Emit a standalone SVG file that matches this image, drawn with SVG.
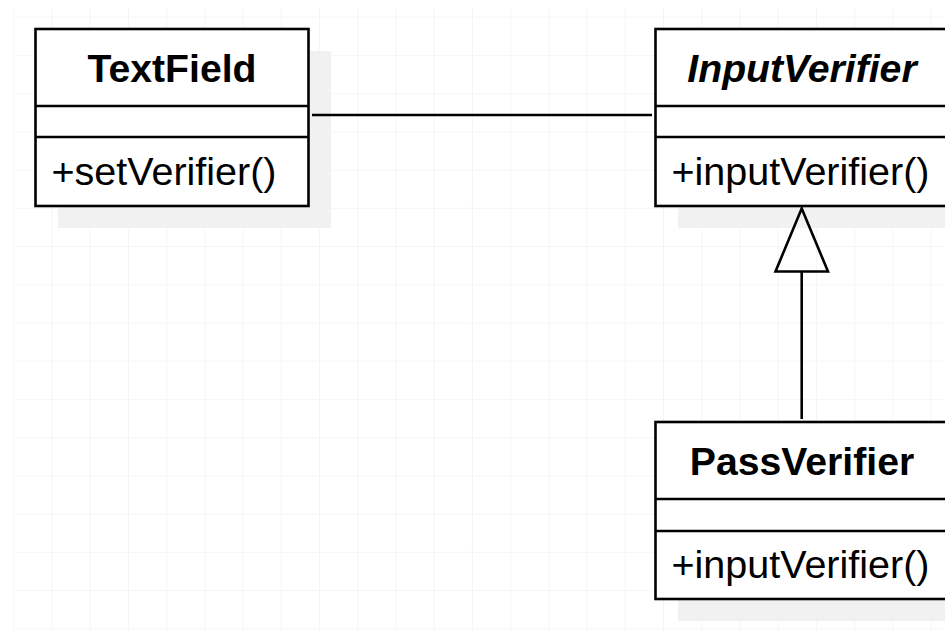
<svg xmlns="http://www.w3.org/2000/svg" width="945" height="631" viewBox="0 0 945 631">
<defs>
<pattern id="grid" x="13.3" y="16.8" width="38.22" height="38.22" patternUnits="userSpaceOnUse">
<path d="M0 0H38.22M0 0V38.22" fill="none" stroke="#eeeeee" stroke-width="1.2"/>
</pattern>
</defs>
<style>
.box{fill:#fff;stroke:#000;stroke-width:2.6}
.sh{fill:#f1f1f1}
.div{stroke:#000;stroke-width:2.6}
.title{font-family:"Liberation Sans",Arial,sans-serif;font-weight:bold;font-size:39.2px;text-anchor:middle}
.it{font-style:italic}
.meth{font-family:"Liberation Sans",Arial,sans-serif;font-size:39.5px}
.edge{fill:none;stroke:#000;stroke-width:2.6}
</style>
<rect x="0" y="0" width="945" height="631" fill="#fff"/>
<rect x="13.3" y="8" width="931.7" height="623" fill="url(#grid)"/>
<g id="TextField">
<rect class="sh" x="58" y="51" width="273" height="177"/>
<rect class="box" x="35.5" y="29" width="273" height="177"/>
<line class="div" x1="35.5" y1="106" x2="308.5" y2="106"/>
<line class="div" x1="35.5" y1="137" x2="308.5" y2="137"/>
<text class="title" x="172" y="82">TextField</text>
<text class="meth" x="51.5" y="185">+setVerifier()</text>
</g>
<g id="InputVerifier">
<rect class="sh" x="678" y="51" width="293" height="177"/>
<rect class="box" x="655.5" y="29" width="293" height="177"/>
<line class="div" x1="655.5" y1="106" x2="948.5" y2="106"/>
<line class="div" x1="655.5" y1="137" x2="948.5" y2="137"/>
<text class="title it" x="802" y="82">InputVerifier</text>
<text class="meth" x="671.5" y="185">+inputVerifier()</text>
</g>
<g id="PassVerifier">
<rect class="sh" x="678" y="444" width="293" height="177"/>
<rect class="box" x="655.5" y="422" width="293" height="177"/>
<line class="div" x1="655.5" y1="499" x2="948.5" y2="499"/>
<line class="div" x1="655.5" y1="531" x2="948.5" y2="531"/>
<text class="title" x="802" y="475">PassVerifier</text>
<text class="meth" x="671.5" y="578">+inputVerifier()</text>
</g>
<g id="connectors">
<line class="edge" x1="312" y1="115" x2="652" y2="115"/>
<line class="edge" x1="801.7" y1="271" x2="801.7" y2="419"/>
<polygon class="edge" points="801.7,208.5 775.5,271.5 828,271.5" fill="#fff"/>
</g>
</svg>
